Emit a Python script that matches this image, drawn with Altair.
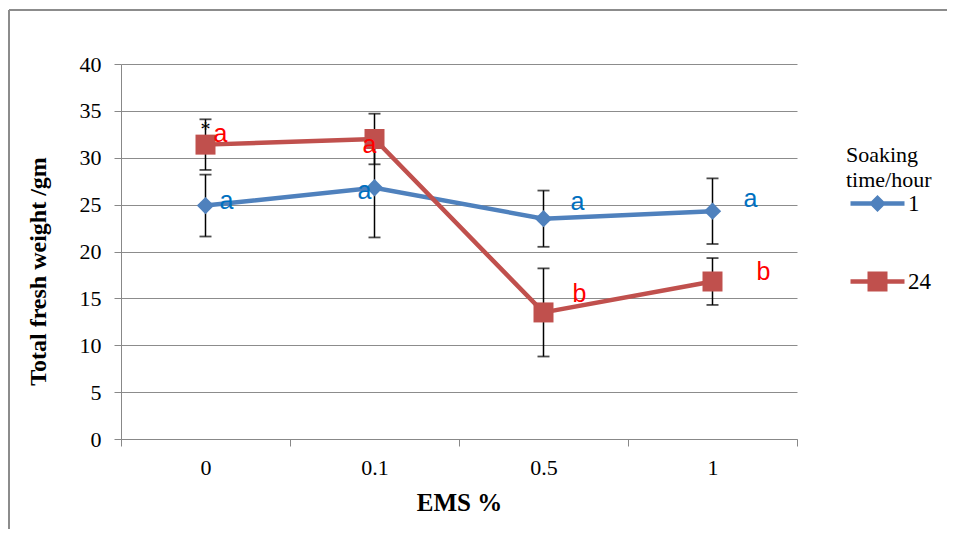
import altair as alt
import pandas as pd

ems = ["0", "0.1", "0.5", "1"]
series = ["1", "24"]
mean_1h = [24.9, 26.8, 23.5, 24.3]
err_1h = [3.3, 5.3, 3.0, 3.5]
mean_24h = [31.4, 32.0, 13.5, 16.8]
err_24h = [2.7, 2.7, 4.7, 2.5]
letters_1h = ["a", "a", "a", "a"]
letters_24h = ["a", "a", "b", "b"]
star_24h = ["*", "", "", ""]

rows = []
for s, means, errs, lets, stars in [
    ("1", mean_1h, err_1h, letters_1h, ["", "", "", ""]),
    ("24", mean_24h, err_24h, letters_24h, star_24h),
]:
    for e, m, d, l, st in zip(ems, means, errs, lets, stars):
        rows.append({"series": s, "ems": e, "mean": m, "lo": m - d, "hi": m + d,
                     "letter": l, "star": st})
df = pd.DataFrame(rows)

line_colors = {"1": "#4F81BD", "24": "#C0504D"}
letter_colors = {"1": "#0070C0", "24": "#FF0000"}
shapes = {"1": "diamond", "24": "square"}
sizes = {"1": 300, "24": 400}
# letter offsets (dx, dy) per series
letter_offsets = {
    "1": [(21, -5), (-10, 3), (34, -17), (38, -12)],
    "24": [(15, -11), (-5, 6), (36, -18), (51, -10)],
}

FONT = "Liberation Serif"

x_enc = alt.X(
    "ems:N", sort=ems,
    scale=alt.Scale(type="band", domain=ems, paddingInner=0, paddingOuter=0),
    axis=alt.Axis(title="EMS %", tickBand="extent", labelAngle=0, domainColor="#888888",
                  tickColor="#888888", tickSize=7, labelFont=FONT, labelFontSize=22,
                  labelColor="black", labelPadding=11, titleFont=FONT, titleFontSize=25,
                  titleFontWeight="bold", titleColor="black", titlePadding=12, grid=False),
)
y_enc = alt.Y(
    "mean:Q", scale=alt.Scale(domain=[0, 40], nice=False),
    axis=alt.Axis(title="Total fresh weight  /gm", values=list(range(0, 45, 5)),
                  grid=True, gridColor="#8C8C8C", domainColor="#888888",
                  tickColor="#888888", tickSize=7, labelFont=FONT, labelFontSize=22,
                  labelColor="black", labelPadding=13, titleFont=FONT, titleFontSize=24,
                  titleFontWeight="bold", titleColor="black", titlePadding=29,
                  titleY=207),
)

base = alt.Chart(df)
layers = []

# error bars
layers.append(base.mark_rule(color="black", strokeWidth=1.5).encode(
    x=x_enc, y=alt.Y("lo:Q"), y2="hi:Q"))
layers.append(base.mark_tick(color="black", size=12, thickness=1.8).encode(
    x=x_enc, y=alt.Y("lo:Q")))
layers.append(base.mark_tick(color="black", size=12, thickness=1.8).encode(
    x=x_enc, y=alt.Y("hi:Q")))

# lines and markers
for s in series:
    sub = base.transform_filter(alt.datum.series == s)
    layers.append(sub.mark_line(color=line_colors[s], strokeWidth=4.5).encode(
        x=x_enc, y=y_enc))
    layers.append(sub.mark_point(shape=shapes[s], filled=True, opacity=1,
                                 color=line_colors[s], size=sizes[s]).encode(
        x=x_enc, y=y_enc))

# significance letters
for s in series:
    for i, e in enumerate(ems):
        dx, dy = letter_offsets[s][i]
        layers.append(base.transform_filter(
            (alt.datum.series == s) & (alt.datum.ems == e)).mark_text(
            font="Liberation Sans", fontSize=25, color=letter_colors[s],
            dx=dx, dy=dy, baseline="middle", align="center").encode(
            x=x_enc, y=y_enc, text="letter:N"))

# asterisk
layers.append(base.transform_filter(alt.datum.star != "").mark_text(
    font=FONT, fontSize=20, color="black", dy=-15, baseline="middle").encode(
    x=x_enc, y=y_enc, text="star:N"))

# legend layer (invisible marks, legend only)
leg_diamond = "M-2.7,-0.225H2.7V0.225H-2.7Z M0,-0.85L0.85,0L0,0.85L-0.85,0Z"
leg_square = "M-2.7,-0.225H2.7V0.225H-2.7Z M-1,-1H1V1H-1Z"
layers.append(base.mark_point(filled=True, opacity=0).encode(
    x=x_enc, y=y_enc,
    color=alt.Color("series:N", scale=alt.Scale(domain=series,
                    range=[line_colors[s] for s in series]),
                    legend=alt.Legend(title=["Soaking", "time/hour"], orient="none",
                                      legendX=725, legendY=81, symbolSize=400,
                                      symbolOpacity=1, symbolStrokeWidth=0,
                                      symbolOffset=20,
                                      titleFont=FONT, titleFontSize=22,
                                      titleFontWeight="normal", titleColor="black",
                                      titleLineHeight=25, titlePadding=0,
                                      labelFont=FONT, labelFontSize=23,
                                      labelColor="black", labelOffset=19,
                                      rowPadding=54)),
    shape=alt.Shape("series:N", scale=alt.Scale(domain=series,
                    range=[leg_diamond, leg_square]), legend=None),
))

# chart frame (left and top edges)
layers.append(alt.Chart(df).mark_rule(color="#8C8C8C", strokeWidth=1.5).encode(
    x=alt.value(-112), y=alt.value(-54), y2=alt.value(480)))
layers.append(alt.Chart(df).mark_rule(color="#8C8C8C", strokeWidth=1.5).encode(
    x=alt.value(-112), x2=alt.value(840), y=alt.value(-54)))

chart = alt.layer(*layers).properties(
    width=676, height=375,
    autosize=alt.AutoSizeParams(type="none"),
    padding={"left": 113, "top": 56, "right": 150, "bottom": 90},
    background="white",
).configure(font=FONT).configure_view(stroke=None).configure_axis(
    labelFont=FONT, titleFont=FONT).configure_legend(labelFont=FONT, titleFont=FONT)

chart.save("out.html", embed_options={"renderer": "svg", "actions": False})
